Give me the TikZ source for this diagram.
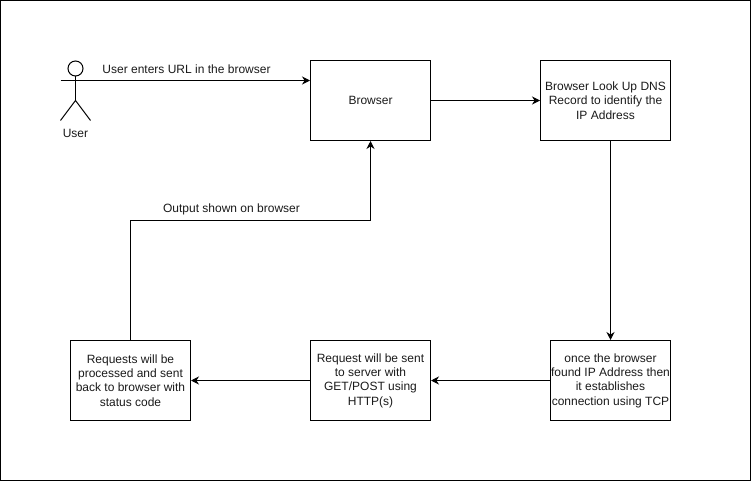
\documentclass[tikz,border=0pt]{standalone}
\usepackage{fontspec}
\setmainfont{Liberation Sans}
\usetikzlibrary{arrows.meta, positioning, calc}
\definecolor{ctext}{HTML}{1A1A1A}
\tikzset{
  flowbox/.style={draw, line width=1pt, minimum width=120pt, minimum height=80pt, inner sep=0pt, align=center, font=\fontsize{12}{14.4}\selectfont, text=ctext},
  flowlabel/.style={font=\fontsize{12}{14.4}\selectfont, text=ctext, inner sep=0pt},
  flowarrow/.style={-{Stealth[length=8pt,width=8pt]}, line width=1pt}
}
\begin{document}
\begin{tikzpicture}[x=1pt, y=-1pt]
  \useasboundingbox (0,0) rectangle (752,481);
  % Draw frame
  \draw[line width=1.5pt] (0.5,0.5) rectangle (750.5,480.5);

  \begin{scope}[shift={(0.5,0.5)}]
  % Draw user
  \node[circle, draw, line width=1pt, minimum size=15pt, inner sep=0pt] (userhead) at (75,68) {};
  \coordinate (userhip) at (75,100);
  \coordinate (userarml) at (60,80);
  \coordinate (userarmr) at (90,80);
  \coordinate (userlegl) at (60,120);
  \coordinate (userlegr) at (90,120);
  \draw[line width=1pt] (userhead.south) -- (userhip);
  \draw[line width=1pt] (userarml) -- (userarmr);
  \draw[line width=1pt] (userlegl) -- (userhip) -- (userlegr);
  \node[flowlabel] (username) at (75,133) {User};

  % Draw boxes
  \node[flowbox] (browser) at (370,100) {Browser};
  \node[flowbox, minimum width=130pt] (dns) at (605,100) {Browser Look Up DNS\\Record to identify the\\IP Address};
  \node[flowbox] (tcp) at (610,380) {once the browser\\found IP Address then\\it establishes\\connection using TCP};
  \node[flowbox] (request) at (370,380) {Request will be sent\\to server with\\GET/POST using\\HTTP(s)};
  \node[flowbox] (process) at (130,380) {Requests will be\\processed and sent\\back to browser with\\status code};

  % Arrows
  \draw[flowarrow] (userarmr) -- (userarmr -| browser.west);
  \draw[flowarrow] (browser) -- (dns);
  \draw[flowarrow] (tcp.north |- dns.south) -- (tcp.north);
  \draw[flowarrow] (tcp) -- (request);
  \draw[flowarrow] (request) -- (process);
  \coordinate (outleft) at (130,220);
  \draw[flowarrow] (process.north) -- (outleft) -| (browser.south);

  % Labels
  \node[flowlabel] (urllabel) at (186,69) {User enters URL in the browser};
  \node[flowlabel] (outlabel) at (231,209) {Output shown on browser};
  \end{scope}
\end{tikzpicture}
\end{document}
